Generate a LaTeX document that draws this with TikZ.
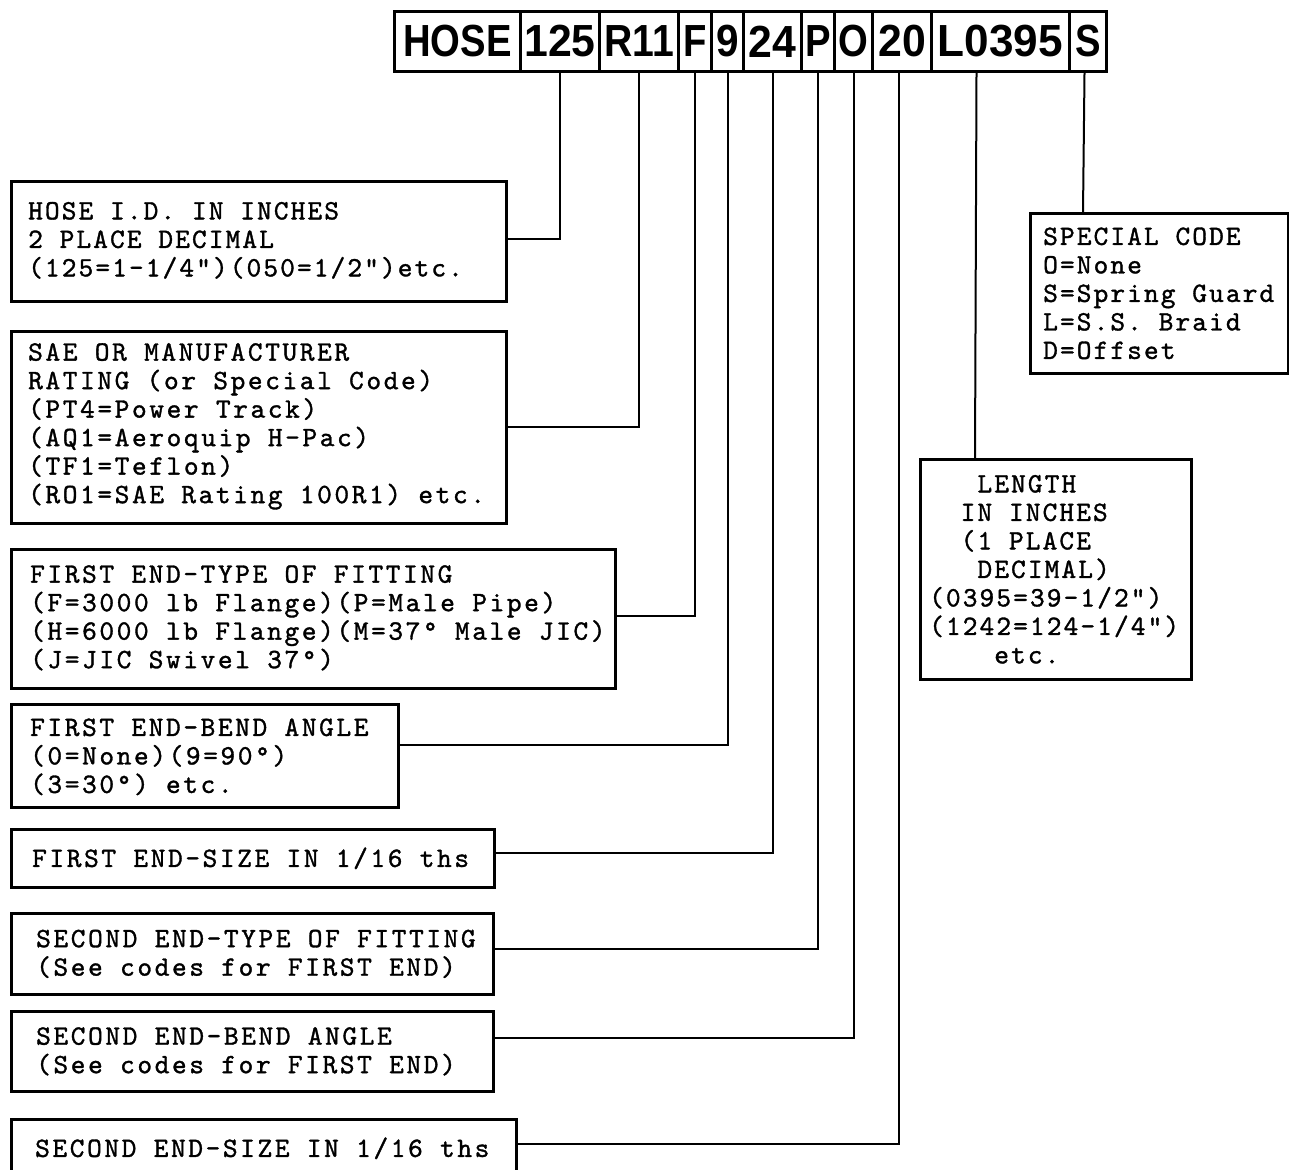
\documentclass[tikz,border=0pt]{standalone}
\usepackage{fontspec}
\usepackage{graphicx}
\usetikzlibrary{calc}
\newfontfamily\tw{lmmono10-regular.otf}[FakeBold=1.2,LetterSpace=9.3]
\newfontfamily\twn{lmmono10-regular.otf}[FakeBold=1.2,LetterSpace=7.5]
\newfontfamily\hd{Liberation Sans}
\newcommand\hz[2][0.85]{\scalebox{#1}[1]{#2}}
\begin{document}
\begin{tikzpicture}[x=1pt,y=-1pt,
  cell/.style={draw, line width=3pt, inner sep=0pt, minimum height=60, anchor=north west,
    font=\hd\bfseries\fontsize{45}{45}\selectfont},
  infobox/.style={draw, line width=2.7pt, inner sep=0pt, anchor=north west},
  infotext/.style={inner sep=0pt, anchor=west, align=left,
    font=\tw\fontsize{28}{28.5}\selectfont},
  narrowtext/.style={infotext, font=\twn\fontsize{28}{28.5}\selectfont},
  lead/.style={line width=2pt}]
\useasboundingbox (0,0) rectangle (1289,1169);
\fill[white] (0,0) rectangle (1289,1169);

% code bar
\node[cell, minimum width=126] (cH)   at (393,10)  {\hz{HOSE}};
\node[cell, minimum width=79]  (c125) at (519,10)  {\hz[0.95]{125}};
\node[cell, minimum width=79]  (cR)   at (598,10)  {\hz[0.87]{R11}};
\node[cell, minimum width=33]  (cF)   at (677,10)  {\hz{F}};
\node[cell, minimum width=32]  (c9)   at (710,10)  {\hz[0.9]{9}};
\node[cell, minimum width=58]  (c24)  at (742,10)  {\hz[0.95]{24}};
\node[cell, minimum width=33]  (cP)   at (800,10)  {\hz{P}};
\node[cell, minimum width=38]  (cO)   at (833,10)  {\hz{O}};
\node[cell, minimum width=59]  (c20)  at (871,10)  {\hz[0.95]{20}};
\node[cell, minimum width=138] (cL)   at (930,10)  {\hz[0.98]{L0395}};
\node[cell, minimum width=37]  (cS)   at (1068,10) {\hz{S}};

% description boxes
\node[infobox, minimum width=495, minimum height=120] (b1) at (10,180) {};
\node[infobox, minimum width=495, minimum height=192] (b2) at (10,330) {};
\node[infobox, minimum width=604, minimum height=139] (b3) at (10,548) {};
\node[infobox, minimum width=387, minimum height=103] (b4) at (10,703) {};
\node[infobox, minimum width=483, minimum height=58]  (b5) at (10,828) {};
\node[infobox, minimum width=482, minimum height=81]  (b6) at (10,912) {};
\node[infobox, minimum width=482, minimum height=80]  (b7) at (10,1010) {};
\node[infobox, minimum width=505, minimum height=58]  (b8) at (10,1118) {};
\node[infobox, minimum width=258, minimum height=160] (spec) at (1029,212) {};
\node[infobox, minimum width=271, minimum height=220] (len) at (919,458) {};

% texts
\node[narrowtext] (t1) at ($(b1.west)+(18,-1)$)
  {HOSE I.D. IN INCHES\\2 PLACE DECIMAL\\(125=1-1/4")(050=1/2")etc.};
\node[infotext] (t2) at ($(b2.west)+(18,-1)$)
  {SAE OR MANUFACTURER\\RATING (or Special Code)\\(PT4=Power Track)\\(AQ1=Aeroquip H-Pac)\\(TF1=Teflon)\\(RO1=SAE Rating 100R1) etc.};
\node[infotext] (t3) at ($(b3.west)+(20,-1)$)
  {FIRST END-TYPE OF FITTING\\(F=3000 lb Flange)(P=Male Pipe)\\(H=6000 lb Flange)(M=37° Male JIC)\\(J=JIC Swivel 37°)};
\node[infotext] (t4) at ($(b4.west)+(20,1)$)
  {FIRST END-BEND ANGLE\\(0=None)(9=90°)\\(3=30°) etc.};
\node[infotext] (t5) at ($(b5.west)+(22,0)$)
  {FIRST END-SIZE IN 1/16 ths};
\node[infotext] (t6) at ($(b6.west)+(26,0)$)
  {SECOND END-TYPE OF FITTING\\(See codes for FIRST END)};
\node[infotext] (t7) at ($(b7.west)+(26,0)$)
  {SECOND END-BEND ANGLE\\(See codes for FIRST END)};
\node[infotext] (t8) at ($(b8.west)+(25,0)$)
  {SECOND END-SIZE IN 1/16 ths};
\node[narrowtext] (ts) at ($(spec.west)+(14,0)$)
  {SPECIAL CODE\\O=None\\S=Spring Guard\\L=S.S. Braid\\D=Offset};
\node[narrowtext] (tl) at ($(len.west)+(10,0)$)
  {\phantom{000}LENGTH\\\phantom{00}IN INCHES\\\phantom{00}(1 PLACE\\\phantom{000}DECIMAL)\\(0395=39-1/2")\\(1242=124-1/4")\\\phantom{0000}etc.};

% leaders
\draw[lead] (c125.south) |- ($(b1.north east)!0.48!(b1.south east)$);
\draw[lead] (cR.south)   |- ($(b2.north east)!0.50!(b2.south east)$);
\draw[lead] (cF.south)   |- ($(b3.north east)!0.48!(b3.south east)$);
\draw[lead] (c9.south)   |- ($(b4.north east)!0.40!(b4.south east)$);
\draw[lead] (c24.south)  |- ($(b5.north east)!0.41!(b5.south east)$);
\draw[lead] (cP.south)   |- ($(b6.north east)!0.44!(b6.south east)$);
\draw[lead] (cO.south)   |- ($(b7.north east)!0.34!(b7.south east)$);
\draw[lead] ($(c20.south)+(-3.5,0)$) |- ($(b8.north east)!0.43!(b8.south east)$);
\draw[lead] ($(cL.south)+(-24,0)$) -- ($(len.north west)+(56,0)$);
\draw[lead] ($(cS.south)+(-3.5,0)$) -- ($(spec.north west)+(54,0)$);
\end{tikzpicture}
\end{document}
